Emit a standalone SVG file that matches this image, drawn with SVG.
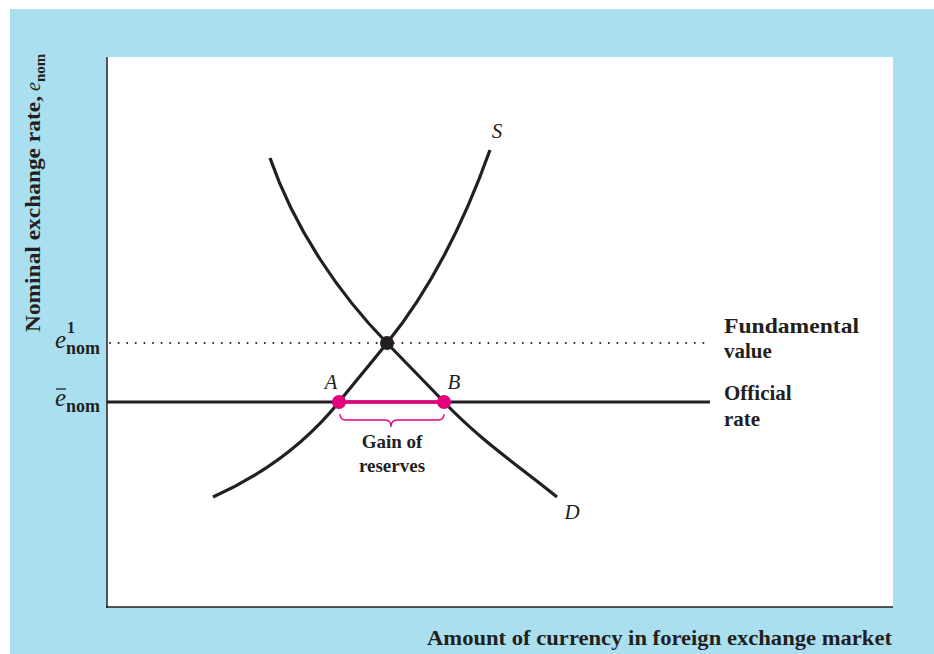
<svg xmlns="http://www.w3.org/2000/svg" width="934" height="654" viewBox="0 0 934 654">
<style>
.t{font-family:"Liberation Serif","Times New Roman",serif;font-weight:bold;fill:#231f20}
.i{font-family:"Liberation Serif","Times New Roman",serif;font-style:italic;fill:#231f20}
.curve{fill:none;stroke:#231f20;stroke-width:3.2;stroke-linecap:butt}
</style>
<rect x="0" y="0" width="934" height="654" fill="#ffffff"/>
<rect x="10" y="9" width="924" height="645" fill="#aadff0"/>
<rect x="107" y="57" width="786" height="550" fill="#ffffff"/>
<g id="axes">
<line x1="107" y1="57" x2="107" y2="608" stroke="#231f20" stroke-width="1.5"/>
<line x1="106" y1="607" x2="893" y2="607" stroke="#231f20" stroke-width="1.5"/>
</g>
<g id="connectors">
<line x1="110" y1="343" x2="710" y2="343" stroke="#231f20" stroke-width="2" stroke-dasharray="0 8.6" stroke-linecap="round"/>
<line x1="107" y1="402" x2="710" y2="402" stroke="#231f20" stroke-width="3.2"/>
<path id="S" class="curve" d="M213,497 C260,476 305,444 339,402 C355,382 372,362 387,343 C430,290 465,220 490,150"/>
<path id="D" class="curve" d="M270,158 C295,230 340,295 387,343 C405,362 425,382 444,402 C480,440 520,467 557,497"/>
<line x1="339" y1="402" x2="444" y2="402" stroke="#e5007d" stroke-width="3.5"/>
<path d="M340,414 Q340,420 346,420 L385,420 Q391,420 391,427 Q391,420 397,420 L438,420 Q444,420 444,414" fill="none" stroke="#e5007d" stroke-width="1.3"/>
</g>
<g id="eq-point"><circle cx="387" cy="343" r="7" fill="#231f20"/></g>
<g id="point-A"><circle cx="339" cy="402" r="7" fill="#e5007d"/><text class="i" x="331" y="389" font-size="21" text-anchor="middle">A</text></g>
<g id="point-B"><circle cx="444" cy="402" r="7" fill="#e5007d"/><text class="i" x="454" y="389" font-size="21" text-anchor="middle">B</text></g>
<g id="label-S"><text class="i" x="497" y="138" font-size="21" text-anchor="middle">S</text></g>
<g id="label-D"><text class="i" x="572" y="519" font-size="21" text-anchor="middle">D</text></g>
<g id="gain"><text class="t" x="392" y="448" font-size="19" text-anchor="middle">Gain of</text><text class="t" x="392" y="472" font-size="19" text-anchor="middle">reserves</text></g>
<g id="fundamental"><text class="t" x="724" y="333" font-size="21" textLength="135" lengthAdjust="spacingAndGlyphs">Fundamental</text><text class="t" x="724" y="358" font-size="21">value</text></g>
<g id="official"><text class="t" x="724" y="400" font-size="21">Official</text><text class="t" x="724" y="426" font-size="21">rate</text></g>
<g id="e1"><text class="t" font-size="18"><tspan class="i" font-weight="normal" x="55" y="348" font-size="25">e</tspan><tspan x="67" y="333" font-size="16">1</tspan><tspan x="66" y="354">nom</tspan></text></g>
<g id="ebar"><line x1="56" y1="389" x2="66" y2="389" stroke="#231f20" stroke-width="1.3"/><text class="t" font-size="18"><tspan class="i" font-weight="normal" x="55" y="406" font-size="25">e</tspan><tspan x="66" y="412">nom</tspan></text></g>
<g id="y-label"><text class="t" transform="translate(40,332) rotate(-90)" font-size="20"><tspan textLength="236" lengthAdjust="spacingAndGlyphs">Nominal exchange rate,</tspan><tspan class="i" font-weight="normal" dx="5">e</tspan><tspan font-size="15" dy="5">nom</tspan></text></g>
<g id="x-label"><text class="t" x="427" y="645" font-size="20" textLength="465" lengthAdjust="spacingAndGlyphs">Amount of currency in foreign exchange market</text></g>
</svg>
